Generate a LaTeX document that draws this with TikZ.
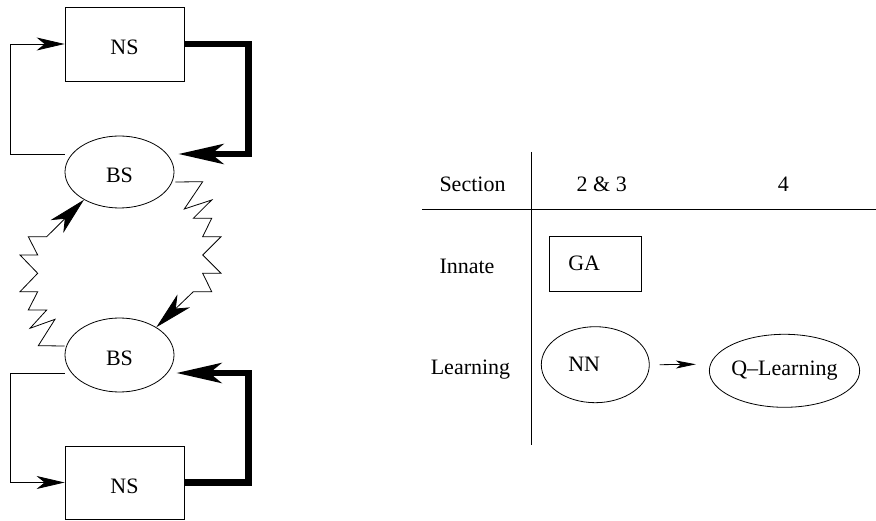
\documentclass[tikz,border=0pt]{standalone}
\usepackage{fontspec}
\setmainfont{Liberation Serif}
\usetikzlibrary{arrows.meta,calc,shapes.geometric}
\begin{document}
\begin{tikzpicture}[x=1pt,y=-1pt,
  font=\fontsize{22}{26}\selectfont,
  box/.style={draw,line width=0.8pt,rectangle,inner sep=0pt},
  oval/.style={draw,line width=0.8pt,ellipse,inner sep=0pt},
  lowtext/.style={text height=22pt},
  lbl/.style={anchor=base,inner sep=0pt},
  thinarr/.style={line width=0.8pt,-{Stealth[length=28pt,width=13pt,inset=8pt]}},
  thickarr/.style={line width=6.5pt,line join=miter,-{Stealth[length=45pt,width=20pt,inset=12pt]}},
  zigarr/.style={line width=0.8pt,line join=miter,-{Stealth[length=38pt,width=18pt,inset=11pt]}},
  smallarr/.style={line width=0.8pt,-{Stealth[length=20pt,width=8pt,inset=5pt]}}
]
\useasboundingbox (0,0) rectangle (876,521);
% left diagram
\node[box,lowtext,minimum width=119pt,minimum height=74pt] (ns1) at (124.5,44) {NS};
\node[oval,lowtext,minimum width=109pt,minimum height=72pt] (bs1) at (119.5,172) {BS};
\node[oval,lowtext,minimum width=109pt,minimum height=74pt] (bs2) at (119.5,355) {BS};
\node[box,lowtext,minimum width=119pt,minimum height=73pt] (ns2) at (124.5,482.5) {NS};
% top loop
\draw[thinarr] ($(bs1.west)+(0,-18)$) -| ($(ns1.west)+(-54,0)$) -- (ns1.west);
\draw[thickarr] (ns1.east) -| ($(bs1.east)+(74,-18)$) -- ($(bs1.east)+(4,-18)$);
% bottom loop
\draw[thinarr] ($(bs2.west)+(0,18)$) -| ($(ns2.west)+(-54,0)$) -- (ns2.west);
\draw[thickarr] (ns2.east) -| ($(bs2.east)+(74,18)$) -- ($(bs2.east)+(2,18)$);
% zigzags
\draw[zigarr] ($(bs1.east)+(1,10)$) -- (202.7,181.7) -- (184.3,209) -- (211.7,200) -- (193.3,218.3)
  -- (211.7,218.3) -- (202.7,236.7) -- (221,236.7) -- (202.7,255) -- (221,273.3)
  -- (202.7,273.3) -- (211.7,291.7) -- (193.3,291.7) -- (bs2.37);
\draw[zigarr] ($(bs2.west)+(0,-9)$) -- (38.3,345.7) -- (55,319.3) -- (30,328.3) -- (46.7,310)
  -- (28.3,310) -- (37.7,291.7) -- (20,291.7) -- (37.7,273.3) -- (20,255)
  -- (37.7,255) -- (28.3,236.7) -- (46.7,236.7) -- (bs1.218);
% table
\coordinate (vt) at (531.7,152);
\coordinate (vb) at (531.7,445);
\coordinate (hl) at (422,209);
\coordinate (hr) at (876,209);
\draw[line width=0.8pt] (vt) -- (vb);
\draw[line width=0.8pt] (hl) -- (hr);
\node[lbl] (sec) at (472.5,191.7) {Section};
\node[lbl] (c23) at (601.7,191.7) {2 \& 3};
\node[lbl] (c4) at (783.3,191.7) {4};
\node[lbl] (inn) at (467,273.3) {Innate};
\node[lbl] (lea) at (470.5,375) {Learning};
\node[box,minimum height=54.3pt,text width=54.4pt,inner xsep=18.6pt,align=left] (ga) at (595.5,263.8) {GA};
\node[oval,minimum width=108pt,minimum height=76pt,text width=54pt,align=left] (nn) at (595.3,364.7) {NN};
\node[oval,minimum width=132.4pt,minimum height=73pt] (ql) at (784.5,370.8) {Q--Learning};
\draw[smallarr] ($(nn.east)+(10,0)$) -- ($(ql.west)+(-13,-6.5)$);
\end{tikzpicture}
\end{document}
